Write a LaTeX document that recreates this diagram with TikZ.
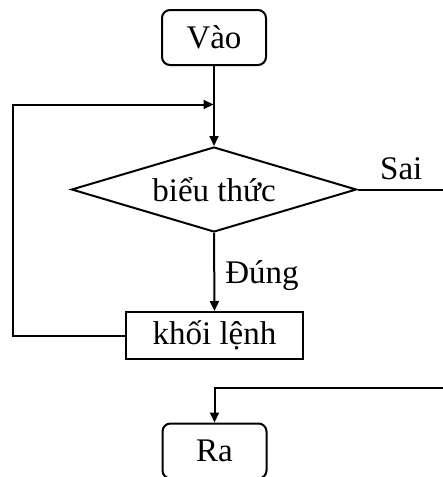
\documentclass[tikz,border=0pt]{standalone}
\usepackage{fontspec}
\setmainfont{Liberation Serif}
\usetikzlibrary{shapes.geometric,arrows.meta}
\begin{document}
\begin{tikzpicture}[x=1pt,y=-1pt,
  every node/.style={font=\fontsize{33}{40}\selectfont},
  line/.style={line width=2pt},
  arr/.style={line, -{Triangle[length=10pt,width=9pt]}},
  term/.style={draw, line width=2pt, rounded corners=8pt, minimum width=104pt, minimum height=55pt, inner sep=0pt},
  proc/.style={draw, line width=2pt, minimum width=177pt, minimum height=47pt, inner sep=0pt},
  cond/.style={draw, line width=2pt, diamond, aspect=3.35, minimum width=285pt, minimum height=85pt, inner sep=0pt},
  lbl/.style={inner sep=0pt}]
\useasboundingbox (0,0) rectangle (443,477);
\clip (0,0) rectangle (443,477);
\node[term] (vao) at (214,37.5) {Vào};
\node[cond] (bt) at (214,189.5) {biểu thức};
\node[proc] (kl) at (214.5,335.5) {khối lệnh};
\node[term] (ra) at (214.5,451) {Ra};
\coordinate (merge) at (213.5,104.5);
\coordinate (lb) at (13,335.5);
\coordinate (lt) at (13,104.5);
\coordinate (r1) at (452,189.5);
\coordinate (r2) at (452,388);
\coordinate (r3) at (214.5,388);
\draw[arr] (vao.south) -- (bt.north);
\draw[arr] (kl.west) -- (lb) -- (lt) -- (merge);
\draw[arr] (bt.south) -- (kl.north) node[lbl, pos=0.55, anchor=west, xshift=10pt] {Đúng};
\draw[arr] (bt.east) -- (r1) -- (r2) -- (r3) -- (ra.north);
\node[lbl, anchor=base west] (sai) at (380,179) {Sai};
\end{tikzpicture}
\end{document}
